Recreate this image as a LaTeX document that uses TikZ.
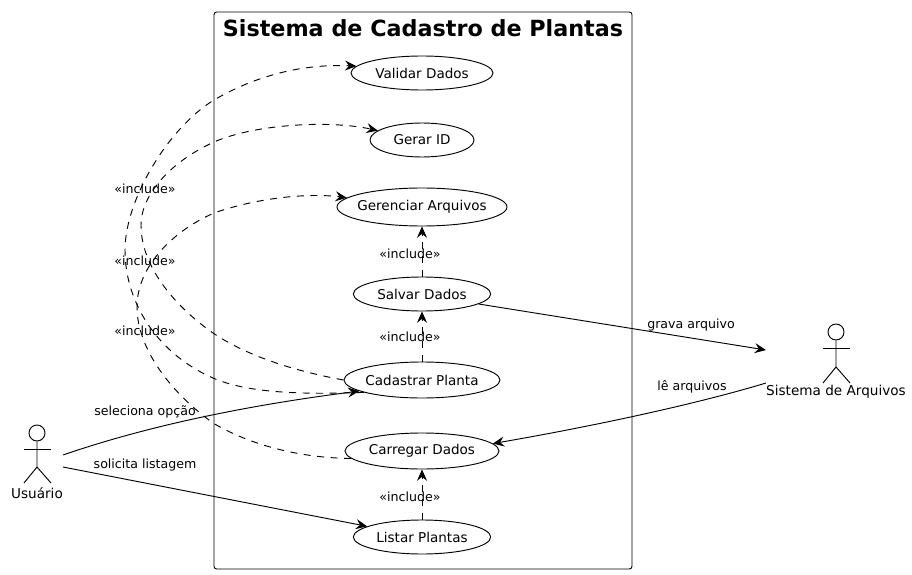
\documentclass[tikz,border=0pt]{standalone}
\usepackage{fontspec}
\setmainfont{DejaVu Sans}
\usetikzlibrary{arrows.meta,shapes.geometric}

\tikzset{
    usecase/.style={draw, ellipse, inner ysep=0pt, inner xsep=-4pt, font=\fontsize{10.15}{12}\selectfont},
    edgelabel/.style={inner sep=0pt, font=\fontsize{9.45}{11}\selectfont},
    actorlabel/.style={inner sep=0pt, font=\fontsize{10.2}{12}\selectfont},
    actorhead/.style={draw, circle, minimum size=12pt, inner sep=0pt},
    assoc/.style={->},
    incl/.style={->, dash pattern=on 5.25pt off 4.9pt},
}

\begin{document}
\begin{tikzpicture}[x=0.75pt, y=-0.75pt, line width=0.7pt, >={Stealth[length=8.5pt,width=7.5pt,inset=3pt]}]
    \useasboundingbox (0,0) rectangle (912,574);

    % system box
    \draw[rounded corners=2pt] (214,12) rectangle (632,569);
    \node[inner sep=0pt, font=\fontsize{16.7}{20}\selectfont\bfseries] (title) at (423,28) {Sistema de Cadastro de Plantas};

    % use cases
    \node[usecase, minimum width=106.5pt, minimum height=25.5pt] (validar) at (422,73) {Validar Dados};
    \node[usecase, minimum width=78pt, minimum height=25.5pt] (gerar) at (422,140) {Gerar ID};
    \node[usecase, minimum width=127.5pt, minimum height=28.5pt] (gerenciar) at (422,207) {Gerenciar Arquivos};
    \node[usecase, minimum width=103pt, minimum height=25.5pt] (salvar) at (422,294) {Salvar Dados};
    \node[usecase, minimum width=117pt, minimum height=27pt] (cadastrar) at (422,380) {Cadastrar Planta};
    \node[usecase, minimum width=115.5pt, minimum height=27pt] (carregar) at (422,451) {Carregar Dados};
    \node[usecase, minimum width=103pt, minimum height=25.5pt] (listar) at (422,537) {Listar Plantas};

    % actors
    \node[actorhead] (usuario) at (37,433) {};
    \draw (usuario.south) -- (37,467) -- (24,483);
    \draw (37,467) -- (51,483);
    \draw (24,449) -- (51,449);
    \node[actorlabel] (usuariotxt) at (37,493) {Usuário};
    \node[actorhead] (arquivos) at (836,332) {};
    \draw (arquivos.south) -- (836,367) -- (823,383);
    \draw (836,367) -- (850,383);
    \draw (823,348) -- (850,348);
    \node[actorlabel] (arquivostxt) at (836,392) {Sistema de Arquivos};

    % free ends at the actors
    \coordinate (usuarioa) at (63,455);
    \coordinate (usuariob) at (63,467);
    \coordinate (arquivosa) at (766,350);
    \coordinate (arquivosb) at (766,383);

    % associations
    \draw[assoc] (usuarioa) .. controls (150,425) and (250,405) .. (cadastrar.190);
    \draw[assoc] (usuariob) -- (listar.169);
    \draw[assoc] (salvar.350) -- (arquivosa);
    \draw[assoc] (arquivosb) .. controls (700,403) and (600,425) .. (carregar.6);

    % includes
    \draw[incl] (salvar.north) -- (gerenciar.south);
    \draw[incl] (cadastrar.north) -- (salvar.south);
    \draw[incl] (listar.north) -- (carregar.south);
    \draw[incl] (cadastrar.192) .. controls (295,395) and (245,392) .. (213,378)
        .. controls (160,355) and (125,305) .. (125,250)
        .. controls (125,200) and (168,128) .. (214,100)
        .. controls (262,72) and (310,64) .. (validar.174);
    \draw[incl] (cadastrar.west) .. controls (300,372) and (250,358) .. (213,333)
        .. controls (180,310) and (141,270) .. (141,225)
        .. controls (141,195) and (170,162) .. (214,142)
        .. controls (255,124) and (330,120) .. (gerar.168);
    \draw[incl] (carregar.186) .. controls (300,458) and (250,445) .. (213,423)
        .. controls (170,392) and (137,348) .. (137,307)
        .. controls (137,265) and (175,230) .. (214,213)
        .. controls (260,197) and (310,193) .. (gerenciar.173);

    % labels
    \node[edgelabel] (inclvalidar) at (145,189) {«include»};
    \node[edgelabel] (inclgerar) at (145,261) {«include»};
    \node[edgelabel] (inclgerenciar) at (145,331) {«include»};
    \node[edgelabel] (inclsalvar) at (410,254) {«include»};
    \node[edgelabel] (inclcadastrar) at (410,337) {«include»};
    \node[edgelabel] (incllistar) at (410,497) {«include»};
    \node[edgelabel] (seleciona) at (145,412) {seleciona opção};
    \node[edgelabel] (solicita) at (145,465) {solicita listagem};
    \node[edgelabel] (grava) at (691,325) {grava arquivo};
    \node[edgelabel] (le) at (692,387) {lê arquivos};
\end{tikzpicture}
\end{document}
